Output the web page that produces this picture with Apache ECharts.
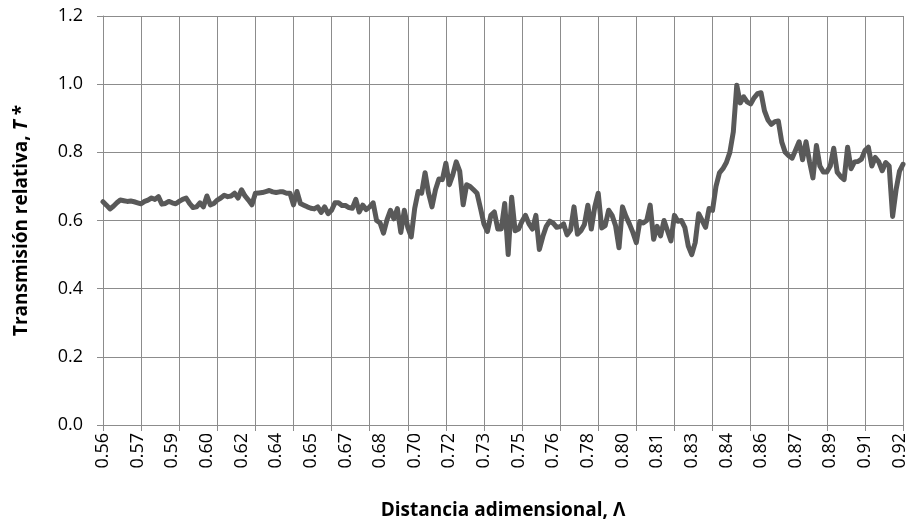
<!DOCTYPE html>
<html style="height: 100%">
<head>
    <meta charset="utf-8">
    <script src="https://cdn.jsdelivr.net/npm/echarts@6/dist/echarts.min.js"></script>
</head>
<body style="height: 100%; margin: 0; background: #fff">
    <div id="main" style="width: 907px; height: 529px;"></div>
    <script type="text/javascript">
    // etiquetas del eje x (una cada 10 puntos)
    var xLabels = ['0.56', '0.57', '0.59', '0.60', '0.62', '0.64', '0.65', '0.67', '0.68', '0.70', '0.72', '0.73',
        '0.75', '0.76', '0.78', '0.80', '0.81', '0.83', '0.84', '0.86', '0.87', '0.89', '0.91', '0.92'];
    var yTicks = [0, 0.2, 0.4, 0.6, 0.8, 1.0, 1.2];

    // transmision relativa T*, 232 puntos
    var tValues = [
        0.655, 0.645, 0.634, 0.642, 0.652, 0.660, 0.658, 0.656, 0.657, 0.655,
        0.652, 0.649, 0.656, 0.660, 0.666, 0.662, 0.670, 0.648, 0.650, 0.656,
        0.652, 0.649, 0.656, 0.662, 0.666, 0.650, 0.638, 0.640, 0.652, 0.640,
        0.672, 0.646, 0.650, 0.660, 0.666, 0.674, 0.670, 0.672, 0.680, 0.666,
        0.690, 0.672, 0.660, 0.646, 0.680, 0.681, 0.682, 0.685, 0.688, 0.684,
        0.682, 0.684, 0.684, 0.680, 0.680, 0.646, 0.685, 0.650, 0.645, 0.640,
        0.636, 0.634, 0.640, 0.624, 0.640, 0.620, 0.630, 0.652, 0.652, 0.644,
        0.644, 0.638, 0.636, 0.662, 0.625, 0.645, 0.632, 0.640, 0.652, 0.600,
        0.593, 0.563, 0.602, 0.630, 0.605, 0.635, 0.565, 0.630, 0.580, 0.552,
        0.635, 0.685, 0.680, 0.740, 0.680, 0.640, 0.690, 0.722, 0.720, 0.768,
        0.705, 0.734, 0.772, 0.745, 0.646, 0.705, 0.700, 0.690, 0.680, 0.636,
        0.590, 0.568, 0.615, 0.625, 0.575, 0.575, 0.650, 0.500, 0.668, 0.570,
        0.575, 0.598, 0.615, 0.590, 0.575, 0.615, 0.515, 0.553, 0.583, 0.598,
        0.592, 0.580, 0.582, 0.590, 0.558, 0.572, 0.640, 0.560, 0.570, 0.588,
        0.645, 0.575, 0.640, 0.680, 0.578, 0.585, 0.630, 0.615, 0.585, 0.520,
        0.640, 0.612, 0.590, 0.565, 0.535, 0.597, 0.593, 0.600, 0.645, 0.545,
        0.583, 0.555, 0.600, 0.570, 0.540, 0.615, 0.598, 0.600, 0.580, 0.525,
        0.500, 0.535, 0.620, 0.600, 0.580, 0.635, 0.630, 0.700, 0.740, 0.752,
        0.770, 0.800, 0.860, 0.997, 0.945, 0.963, 0.948, 0.942, 0.960, 0.972,
        0.975, 0.922, 0.895, 0.882, 0.890, 0.892, 0.830, 0.800, 0.790, 0.783,
        0.807, 0.831, 0.778, 0.831, 0.773, 0.725, 0.820, 0.760, 0.742, 0.742,
        0.760, 0.812, 0.742, 0.729, 0.720, 0.815, 0.752, 0.772, 0.773, 0.780,
        0.805, 0.815, 0.760, 0.785, 0.772, 0.746, 0.770, 0.760, 0.612, 0.690,
        0.745, 0.765
    ];

    var categories = tValues.map(function(v, i) { return String(i) });

    var myChart = echarts.init(document.getElementById('main'));
    var fontName = '"Open Sans", sans-serif';
    var gridColor = '#8c8c8c';

    var option = {
        animation: false,
        textStyle: { fontFamily: fontName },
        grid: { left: 103, right: 4, top: 16, bottom: 104, containLabel: false, outerBoundsMode: 'none' },
        xAxis: {
            type: 'category',
            data: categories,
            boundaryGap: false,
            name: 'Distancia adimensional, Λ',
            nameLocation: 'middle',
            nameGap: 76,
            nameTextStyle: { fontFamily: fontName, fontWeight: 'bold', fontSize: 19, color: '#000' },
            axisLine: { lineStyle: { color: gridColor, width: 1 } },
            axisTick: { interval: 10, length: 6, lineStyle: { color: gridColor } },
            splitLine: { show: true, interval: 10, lineStyle: { color: gridColor, width: 1 } },
            axisLabel: {
                interval: 9,
                rotate: 90,
                margin: 8,
                fontSize: 18,
                color: '#000',
                fontFamily: fontName,
                formatter: function(v, idx) { return xLabels[idx / 10] }
            }
        },
        yAxis: {
            type: 'value',
            min: yTicks[0],
            max: yTicks[yTicks.length - 1],
            interval: 0.2,
            name: '{n|Transmisión relativa, }{t|T}{n| *}',
            nameLocation: 'middle',
            nameGap: 72,
            nameTextStyle: {
                rich: {
                    n: { fontFamily: fontName, fontWeight: 'bold', fontSize: 19, color: '#000' },
                    t: { fontFamily: fontName, fontWeight: 'bold', fontStyle: 'italic', fontSize: 19, color: '#000' }
                }
            },
            axisLine: { show: true, lineStyle: { color: gridColor, width: 1 } },
            axisTick: { show: true, length: 6, lineStyle: { color: gridColor } },
            splitLine: { show: true, lineStyle: { color: gridColor, width: 1 } },
            axisLabel: {
                margin: 20,
                fontSize: 18,
                color: '#000',
                fontFamily: fontName,
                formatter: function(v) { return v.toFixed(1) }
            }
        },
        series: [{
            type: 'line',
            data: tValues,
            showSymbol: false,
            symbol: 'none',
            lineStyle: { color: '#595959', width: 5, cap: 'round', join: 'round' }
        }]
    };

    myChart.setOption(option);
    </script>
</body>
</html>
